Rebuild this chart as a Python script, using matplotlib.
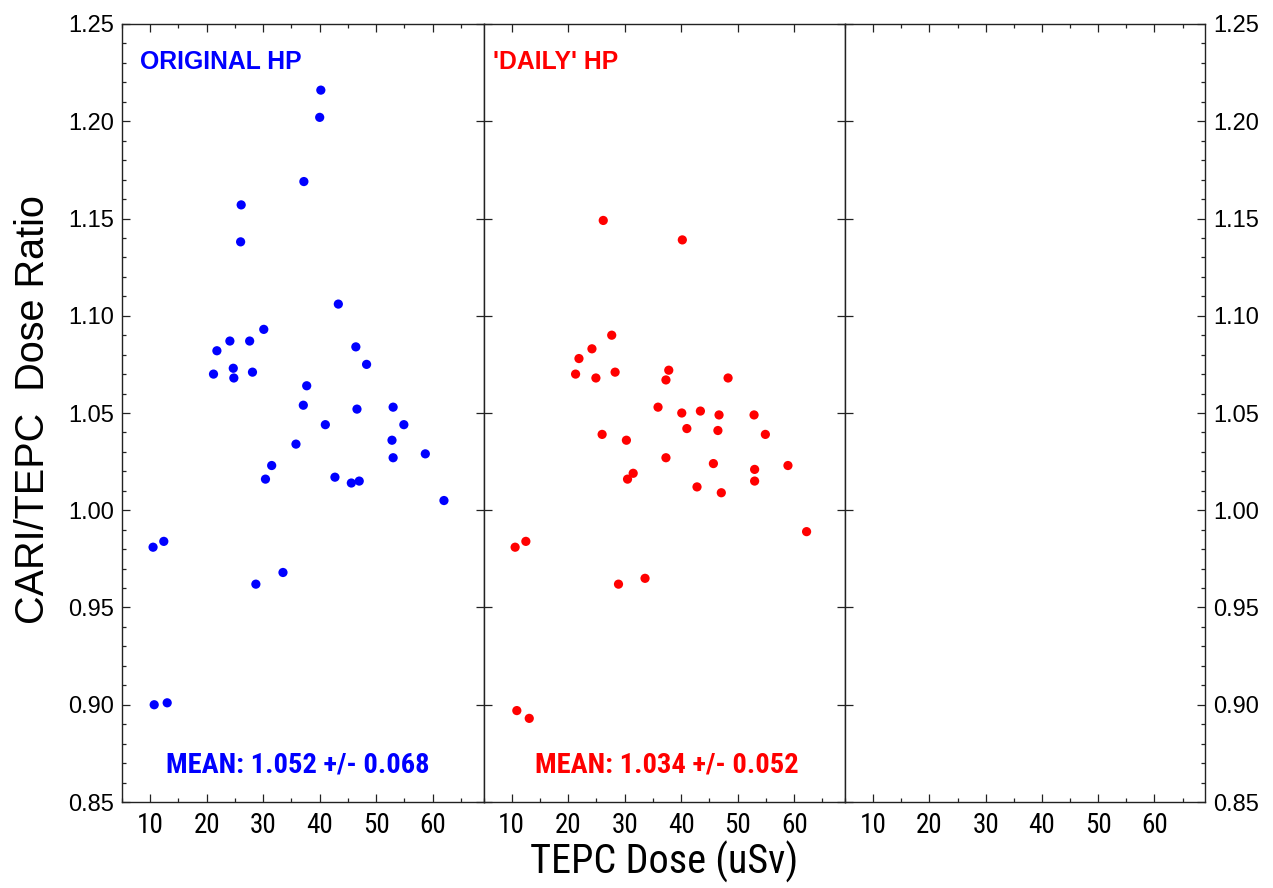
import matplotlib
matplotlib.use("Agg")
import matplotlib.pyplot as plt
from matplotlib import font_manager
from matplotlib.ticker import MultipleLocator, FormatStrFormatter

# ---------------- data ----------------
orig_x = [40.2, 40.0, 37.2, 26.1, 26.0, 43.3, 30.1, 24.1, 27.6, 21.8, 24.7, 21.2, 24.8, 28.1,
          46.4, 48.3, 37.7, 37.1, 46.6, 53.0, 41.0, 54.9, 35.8, 52.8, 53.0, 58.7, 31.5, 30.4,
          42.7, 45.6, 47.0, 62.0, 10.5, 12.4, 33.5, 28.7, 10.7, 13.0]
orig_y = [1.216, 1.202, 1.169, 1.157, 1.138, 1.106, 1.093, 1.087, 1.087, 1.082, 1.073, 1.070,
          1.068, 1.071, 1.084, 1.075, 1.064, 1.054, 1.052, 1.053, 1.044, 1.044, 1.034, 1.036,
          1.027, 1.029, 1.023, 1.016, 1.017, 1.014, 1.015, 1.005, 0.981, 0.984, 0.968, 0.962,
          0.900, 0.901]

daily_x = [26.2, 40.2, 27.7, 24.2, 21.9, 21.3, 24.9, 28.3, 37.8, 37.3, 48.3, 35.9, 40.1, 43.4,
           46.7, 52.9, 41.0, 46.5, 54.9, 26.0, 30.3, 37.3, 45.7, 53.0, 58.9, 31.5, 30.5, 53.0,
           42.8, 47.1, 62.2, 10.6, 12.5, 33.6, 28.9, 10.9, 13.1]
daily_y = [1.149, 1.139, 1.090, 1.083, 1.078, 1.070, 1.068, 1.071, 1.072, 1.067, 1.068, 1.053,
           1.050, 1.051, 1.049, 1.049, 1.042, 1.041, 1.039, 1.039, 1.036, 1.027, 1.024, 1.021,
           1.023, 1.019, 1.016, 1.015, 1.012, 1.009, 0.989, 0.981, 0.984, 0.965, 0.962, 0.897,
           0.893]

panel_titles = ["ORIGINAL HP", "'DAILY' HP"]
mean_texts = ["MEAN: 1.052 +/- 0.068", "MEAN: 1.034 +/- 0.052"]
x_ticks = [10, 20, 30, 40, 50, 60]
y_ticks = [0.85, 0.90, 0.95, 1.00, 1.05, 1.10, 1.15, 1.20, 1.25]
x_label = "TEPC Dose (uSv)"
y_label = "CARI/TEPC  Dose Ratio"

# ---------------- fonts ----------------
avail = {f.name for f in font_manager.fontManager.ttflist}
def pick(*names):
    for n in names:
        if n in avail:
            return n
    return "DejaVu Sans"
SANS = pick("Liberation Sans", "Arial", "DejaVu Sans")
NARROW = pick("Liberation Sans Narrow", "Roboto Condensed", "Open Sans Condensed", "Liberation Sans")
plt.rcParams['font.family'] = [SANS, 'DejaVu Sans']

W, H = 1273, 888
fig = plt.figure(figsize=(W / 100, H / 100), dpi=100)

x0, x1, x2, x3 = 122, 483.5, 845, 1205
ytop, ybot = 24, 802
def rect(a, b):
    return [a / W, 1 - ybot / H, (b - a) / W, (ybot - ytop) / H]

axes = [fig.add_axes(rect(x0, x1)), fig.add_axes(rect(x1, x2)), fig.add_axes(rect(x2, x3))]

for i, ax in enumerate(axes):
    ax.set_xlim(5, 69)
    ax.set_ylim(0.85, 1.25)
    ax.set_xticks(x_ticks)
    ax.xaxis.set_minor_locator(MultipleLocator(5))
    ax.set_yticks(y_ticks)
    ax.yaxis.set_minor_locator(MultipleLocator(0.01))
    for sp in ax.spines.values():
        sp.set_linewidth(1.0)
        sp.set_color("#222222")
    ax.tick_params(axis='both', which='both', direction='in', color="#222222")
    ax.tick_params(axis='both', which='major', length=5.5, width=0.9)
    ax.tick_params(axis='both', which='minor', length=3, width=0.9)
    ax.tick_params(axis='x', which='major', top=True, bottom=True, labelsize=19.5, pad=7)
    ax.tick_params(axis='x', which='minor', top=True, bottom=True)
    for lab in ax.get_xticklabels():
        lab.set_family([NARROW, SANS])
    ax.yaxis.set_major_formatter(FormatStrFormatter('%.2f'))
    if i == 0:
        ax.tick_params(axis='y', which='major', left=True, right=True, labelleft=True,
                       labelright=False, labelsize=17, pad=6)
        ax.tick_params(axis='y', which='minor', left=True, right=False)
    elif i == 1:
        ax.tick_params(axis='y', which='major', left=True, right=True, labelleft=False,
                       labelright=False)
        ax.tick_params(axis='y', which='minor', left=False, right=False)
        ax.tick_params(axis='x', which='minor', top=False)
    else:
        ax.tick_params(axis='y', which='major', left=True, right=True, labelleft=False,
                       labelright=True, labelsize=17, pad=6)
        ax.tick_params(axis='y', which='minor', left=False, right=True)

axes[0].scatter(orig_x, orig_y, s=44, color="#0000ff", edgecolors="none", zorder=3)
axes[1].scatter(daily_x, daily_y, s=44, color="#ff0000", edgecolors="none", zorder=3)

title_font = dict(family=[SANS], fontweight="bold", fontsize=17.8)
axes[0].text(8.1, 1.2305, panel_titles[0], color="#0000ff", ha="left", va="center", **title_font)
axes[1].text(6.6, 1.2305, panel_titles[1], color="#ff0000", ha="left", va="center", **title_font)

mean_font = dict(family=[NARROW, SANS], fontweight="bold", fontsize=20.5)
axes[0].text(36.1, 0.869, mean_texts[0], color="#0000ff", ha="center", va="center", **mean_font)
axes[1].text(37.5, 0.869, mean_texts[1], color="#ff0000", ha="center", va="center", **mean_font)

fig.text(664 / W, 1 - 862 / H, x_label, ha="center", va="center", fontsize=29,
         family=[NARROW, SANS])
fig.text(33 / W, 1 - 410 / H, y_label, ha="center", va="center", rotation=90, fontsize=28.5)

fig.savefig("out.png", dpi=100)
